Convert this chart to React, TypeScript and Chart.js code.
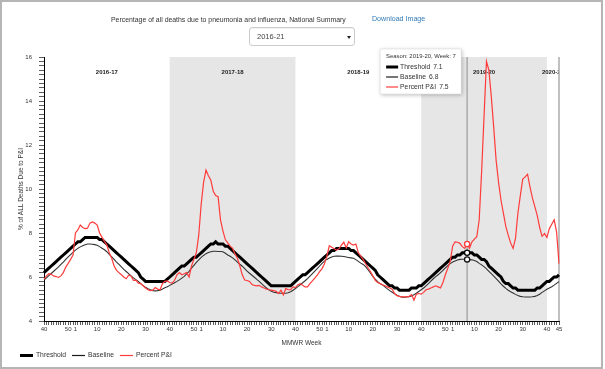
import { useEffect, useRef } from 'react';
import { Chart, registerables } from 'chart.js';

Chart.register(...registerables);

// ---------- categories ----------
const SEASON_NAMES = ['2016-17', '2017-18', '2018-19', '2019-20', '2020-21'];
const SHADED_SEASONS = ['2017-18', '2019-20'];
const SEASON_WEEKS_FULL = [40, 41, 42, 43, 44, 45, 46, 47, 48, 49, 50, 51, 52, 1, 2, 3, 4, 5, 6, 7, 8, 9, 10, 11, 12, 13, 14, 15, 16, 17, 18, 19, 20, 21, 22, 23, 24, 25, 26, 27, 28, 29, 30, 31, 32, 33, 34, 35, 36, 37, 38, 39];
const SEASON_WEEKS_LAST = [40, 41, 42, 43, 44, 45];
const LABELED_WEEKS = [40, 50, 1, 10, 20, 30];
const Y_TICK_LABELS = [4, 6, 8, 10, 12, 14, 16];
const HIGHLIGHT_SEASON = '2019-20';
const HIGHLIGHT_WEEK = 7;

// ---------- series values (per season) ----------
const threshold1617 = [6.2, 6.3, 6.4, 6.5, 6.6, 6.7, 6.8, 6.9, 7.0, 7.1, 7.2, 7.3, 7.4, 7.5, 7.6, 7.6, 7.7, 7.8, 7.8, 7.8, 7.8, 7.8, 7.8, 7.7, 7.7, 7.6, 7.5, 7.4, 7.3, 7.2, 7.1, 7.0, 6.9, 6.8, 6.7, 6.6, 6.5, 6.4, 6.3, 6.2, 6.0, 5.9, 5.8, 5.8, 5.8, 5.8, 5.8, 5.8, 5.8, 5.8, 5.8, 5.9];
const threshold1718 = [6.0, 6.1, 6.2, 6.3, 6.4, 6.5, 6.5, 6.6, 6.7, 6.8, 6.9, 6.9, 7.0, 7.1, 7.2, 7.3, 7.4, 7.5, 7.5, 7.6, 7.5, 7.5, 7.5, 7.4, 7.4, 7.3, 7.2, 7.1, 7.0, 6.9, 6.8, 6.7, 6.6, 6.5, 6.4, 6.3, 6.2, 6.1, 6.0, 5.9, 5.8, 5.7, 5.6, 5.6, 5.6, 5.6, 5.6, 5.6, 5.6, 5.6, 5.6, 5.7];
const threshold1819 = [5.8, 5.9, 6.0, 6.1, 6.1, 6.2, 6.3, 6.4, 6.5, 6.6, 6.7, 6.8, 6.9, 7.0, 7.1, 7.2, 7.2, 7.3, 7.3, 7.3, 7.3, 7.3, 7.3, 7.2, 7.2, 7.1, 7.0, 6.9, 6.8, 6.7, 6.6, 6.5, 6.4, 6.3, 6.1, 6.0, 5.9, 5.8, 5.7, 5.6, 5.6, 5.5, 5.5, 5.4, 5.4, 5.4, 5.4, 5.4, 5.5, 5.5, 5.5, 5.6];
const threshold1920 = [5.6, 5.7, 5.8, 5.9, 6.0, 6.1, 6.2, 6.3, 6.4, 6.5, 6.6, 6.7, 6.8, 6.9, 6.9, 7.0, 7.0, 7.1, 7.1, 7.1, 7.1, 7.1, 7.0, 7.0, 6.9, 6.8, 6.8, 6.7, 6.5, 6.4, 6.3, 6.2, 6.1, 6.0, 5.8, 5.7, 5.7, 5.6, 5.5, 5.5, 5.4, 5.4, 5.4, 5.4, 5.4, 5.4, 5.4, 5.4, 5.5, 5.5, 5.6, 5.7];
const threshold2021 = [5.8, 5.8, 5.9, 6.0, 6.0, 6.1];

const baseline1617 = [5.86, 5.96, 6.06, 6.16, 6.26, 6.36, 6.46, 6.57, 6.68, 6.80, 6.91, 7.02, 7.12, 7.22, 7.30, 7.37, 7.42, 7.47, 7.50, 7.50, 7.49, 7.47, 7.44, 7.38, 7.31, 7.24, 7.15, 7.03, 6.92, 6.80, 6.68, 6.57, 6.46, 6.35, 6.25, 6.15, 6.05, 5.96, 5.88, 5.80, 5.70, 5.61, 5.53, 5.47, 5.42, 5.38, 5.37, 5.38, 5.40, 5.45, 5.51, 5.56];
const baseline1718 = [5.62, 5.68, 5.74, 5.80, 5.87, 5.95, 6.03, 6.14, 6.26, 6.40, 6.53, 6.66, 6.78, 6.89, 6.98, 7.06, 7.11, 7.15, 7.17, 7.17, 7.16, 7.16, 7.15, 7.08, 7.00, 6.94, 6.87, 6.78, 6.68, 6.58, 6.49, 6.38, 6.27, 6.17, 6.08, 5.99, 5.89, 5.80, 5.70, 5.60, 5.50, 5.42, 5.35, 5.31, 5.29, 5.27, 5.26, 5.26, 5.26, 5.28, 5.33, 5.40];
const baseline1819 = [5.48, 5.56, 5.65, 5.74, 5.83, 5.93, 6.04, 6.15, 6.27, 6.38, 6.50, 6.62, 6.72, 6.80, 6.86, 6.91, 6.94, 6.95, 6.95, 6.94, 6.93, 6.91, 6.89, 6.87, 6.85, 6.79, 6.71, 6.63, 6.57, 6.47, 6.33, 6.18, 6.03, 5.90, 5.79, 5.70, 5.64, 5.55, 5.46, 5.38, 5.31, 5.24, 5.17, 5.12, 5.08, 5.08, 5.09, 5.10, 5.14, 5.19, 5.26, 5.34];
const baseline1920 = [5.42, 5.50, 5.60, 5.70, 5.81, 5.92, 6.02, 6.10, 6.20, 6.30, 6.41, 6.52, 6.61, 6.68, 6.73, 6.77, 6.80, 6.81, 6.81, 6.80, 6.79, 6.78, 6.75, 6.70, 6.62, 6.55, 6.47, 6.37, 6.26, 6.15, 6.04, 5.93, 5.81, 5.69, 5.58, 5.48, 5.40, 5.33, 5.27, 5.21, 5.16, 5.12, 5.10, 5.09, 5.09, 5.09, 5.10, 5.12, 5.16, 5.22, 5.30, 5.37];
const baseline2021 = [5.44, 5.50, 5.56, 5.63, 5.71, 5.79];

const pni1617 = [5.9, 6.05, 6.15, 6.12, 6.05, 6.02, 5.98, 6.05, 6.2, 6.45, 6.62, 6.8, 7.0, 8.0, 8.14, 8.36, 8.25, 8.2, 8.22, 8.45, 8.5, 8.45, 8.36, 8.0, 7.8, 7.62, 7.45, 7.1, 6.85, 6.5, 6.3, 6.2, 6.1, 6.0, 5.92, 6.08, 6.05, 5.85, 5.86, 5.72, 5.7, 5.6, 5.5, 5.42, 5.38, 5.4, 5.52, 5.45, 5.42, 5.7, 5.8, 5.82];
const pni1718 = [5.75, 5.72, 5.85, 6.1, 6.2, 6.1, 6.15, 6.2, 6.0, 6.5, 6.8, 7.1, 7.9, 9.3, 10.3, 10.86, 10.6, 10.4, 9.9, 9.7, 9.65, 8.6, 8.1, 7.7, 7.55, 7.4, 7.3, 7.05, 6.85, 6.5, 6.1, 5.86, 5.84, 5.8, 5.66, 5.62, 5.6, 5.62, 5.55, 5.5, 5.45, 5.42, 5.4, 5.38, 5.35, 5.25, 5.4, 5.18, 5.48, 5.42, 5.42, 5.55];
const pni1819 = [5.52, 5.65, 5.7, 5.62, 5.55, 5.55, 5.7, 5.82, 5.95, 6.08, 6.24, 6.38, 6.6, 6.95, 7.42, 7.35, 7.28, 7.22, 7.28, 7.45, 7.58, 7.32, 7.6, 7.5, 7.45, 7.5, 7.1, 6.95, 6.8, 6.6, 6.42, 6.25, 6.05, 5.85, 5.75, 5.7, 5.65, 5.6, 5.55, 5.5, 5.45, 5.25, 5.15, 5.12, 5.1, 5.1, 5.1, 5.12, 5.2, 4.95, 5.22, 5.25];
const pni1920 = [5.22, 5.3, 5.42, 5.45, 5.5, 5.55, 5.6, 5.55, 5.5, 5.75, 6.1, 6.4, 6.7, 7.4, 7.6, 7.58, 7.53, 7.38, 7.3, 7.5, 7.3, 7.6, 7.72, 7.83, 8.6, 10.8, 13.3, 15.8, 15.4, 14.2, 12.8, 11.3, 10.3, 9.5, 8.9, 8.3, 7.9, 7.55, 7.3, 7.75, 8.9, 9.7, 10.45, 10.55, 10.67, 10.1, 9.6, 9.2, 8.8, 8.25, 7.85, 7.98];
const pni2021 = [7.8, 8.2, 8.4, 8.6, 8.05, 6.6];

// ---------- assembled tables ----------
const SEASON_WEEK_LISTS = SEASON_NAMES.map((_, s) => (s === SEASON_NAMES.length - 1 ? SEASON_WEEKS_LAST : SEASON_WEEKS_FULL));
const WEEK_LABELS: number[] = [];
const SEASON_OF: string[] = [];
const SEASON_START: number[] = [];
SEASON_WEEK_LISTS.forEach((weeks, s) => {
  SEASON_START.push(WEEK_LABELS.length);
  weeks.forEach((w) => {
    WEEK_LABELS.push(w);
    SEASON_OF.push(SEASON_NAMES[s]);
  });
});
const LAST_INDEX = WEEK_LABELS.length - 1;
const HL_INDEX = WEEK_LABELS.findIndex((w, i) => w === HIGHLIGHT_WEEK && SEASON_OF[i] === HIGHLIGHT_SEASON);

const THRESHOLD = [...threshold1617, ...threshold1718, ...threshold1819, ...threshold1920, ...threshold2021];
const BASELINE = [...baseline1617, ...baseline1718, ...baseline1819, ...baseline1920, ...baseline2021];
const PNI = [...pni1617, ...pni1718, ...pni1819, ...pni1920, ...pni2021];

const FONT = '"Liberation Sans", Arial, Helvetica, sans-serif';
const RED = '#ff3b3b';

const SERIES = [
  { label: 'Threshold', color: '#000000', width: 3 },
  { label: 'Baseline', color: '#1a1a1a', width: 1.2 },
  { label: 'Percent P&I', color: RED, width: 1.2 },
];

const decorPlugin = {
  id: 'decor',
  beforeDatasetsDraw(chart: any) {
    const { ctx, chartArea: a, scales } = chart;
    const x = scales.x;
    ctx.save();
    // shaded seasons
    SEASON_NAMES.forEach((name, s) => {
      const start = SEASON_START[s];
      const end = s < SEASON_NAMES.length - 1 ? SEASON_START[s + 1] : LAST_INDEX;
      const x0 = x.getPixelForValue(start);
      const x1 = x.getPixelForValue(end);
      if (SHADED_SEASONS.includes(name)) {
        ctx.fillStyle = '#e6e6e6';
        ctx.fillRect(x0, a.top, x1 - x0, a.bottom - a.top);
      }
    });
    // season labels (clipped to plot)
    ctx.save();
    ctx.beginPath();
    ctx.rect(a.left, a.top, a.right - a.left, a.bottom - a.top);
    ctx.clip();
    ctx.font = `bold 6px ${FONT}`;
    ctx.fillStyle = '#222';
    ctx.textAlign = 'center';
    ctx.textBaseline = 'middle';
    SEASON_NAMES.forEach((name, s) => {
      const start = SEASON_START[s];
      const end = s < SEASON_NAMES.length - 1 ? SEASON_START[s + 1] : LAST_INDEX;
      const cx = (x.getPixelForValue(start) + x.getPixelForValue(end)) / 2;
      ctx.fillText(name, cx, a.top + 15);
    });
    ctx.restore();
    // vertical lines
    ctx.strokeStyle = '#a6a6a6';
    ctx.lineWidth = 1.4;
    const hx = x.getPixelForValue(HL_INDEX);
    ctx.beginPath();
    ctx.moveTo(hx, a.top);
    ctx.lineTo(hx, a.bottom);
    ctx.moveTo(a.right, a.top);
    ctx.lineTo(a.right, a.bottom);
    ctx.stroke();
    ctx.restore();
  },
  afterDraw(chart: any) {
    const { ctx, chartArea: a, scales } = chart;
    const x = scales.x;
    const hx = x.getPixelForValue(HL_INDEX);
    ctx.save();
    // tooltip box
    const bx = hx - 87;
    const by = a.top - 8;
    const bw = 81;
    const bh = 45;
    ctx.shadowColor = 'rgba(0,0,0,0.28)';
    ctx.shadowBlur = 4;
    ctx.shadowOffsetX = 1;
    ctx.shadowOffsetY = 1;
    ctx.fillStyle = '#ffffff';
    ctx.fillRect(bx, by, bw, bh);
    ctx.shadowColor = 'transparent';
    ctx.strokeStyle = '#dddddd';
    ctx.lineWidth = 0.6;
    ctx.strokeRect(bx, by, bw, bh);
    ctx.fillStyle = '#333';
    ctx.textAlign = 'left';
    ctx.textBaseline = 'middle';
    ctx.font = `5.9px ${FONT}`;
    ctx.fillText(`Season: ${SEASON_OF[HL_INDEX]}, Week: ${WEEK_LABELS[HL_INDEX]}`, bx + 6, by + 7);
    const values = [THRESHOLD[HL_INDEX], BASELINE[HL_INDEX], PNI[HL_INDEX]];
    ctx.font = `6.75px ${FONT}`;
    SERIES.forEach((sr, k) => {
      const ry = by + 18 + k * 10;
      ctx.strokeStyle = sr.color;
      ctx.lineWidth = sr.width;
      ctx.beginPath();
      ctx.moveTo(bx + 6, ry);
      ctx.lineTo(bx + 18, ry);
      ctx.stroke();
      ctx.fillStyle = '#333';
      ctx.fillText(sr.label, bx + 20, ry);
      const w = ctx.measureText(sr.label).width;
      ctx.fillText(values[k].toFixed(1), bx + 20 + w + 3, ry);
    });
    // bottom legend
    let lx = 20;
    const ly = 355.5;
    SERIES.forEach((sr) => {
      ctx.strokeStyle = sr.color;
      ctx.lineWidth = sr.width;
      ctx.beginPath();
      ctx.moveTo(lx, ly);
      ctx.lineTo(lx + 13, ly);
      ctx.stroke();
      ctx.fillStyle = '#333';
      ctx.fillText(sr.label, lx + 16, ly);
      lx += 16 + ctx.measureText(sr.label).width + 6;
    });
    ctx.restore();
  },
};

function App() {
  const ref = useRef<HTMLCanvasElement | null>(null);

  useEffect(() => {
    if (!ref.current) return;
    Chart.defaults.font.family = FONT;
    const hlRadius = (c: any) => (c.dataIndex === HL_INDEX ? 2.6 : 0);
    const chart = new Chart(ref.current, {
      type: 'line',
      data: {
        labels: WEEK_LABELS.map(String),
        datasets: [
          {
            label: 'Percent P&I',
            data: PNI,
            borderColor: RED,
            borderWidth: 1.2,
            pointRadius: hlRadius,
            pointBackgroundColor: '#fff',
            pointBorderColor: RED,
            pointBorderWidth: 1.3,
            tension: 0,
            order: 0,
          },
          {
            label: 'Baseline',
            data: BASELINE,
            borderColor: '#333333',
            borderWidth: 1.1,
            pointRadius: hlRadius,
            pointBackgroundColor: '#fff',
            pointBorderColor: '#111',
            pointBorderWidth: 1.3,
            tension: 0,
            order: 1,
          },
          {
            label: 'Threshold',
            data: THRESHOLD,
            borderColor: '#000',
            borderWidth: 3,
            pointRadius: hlRadius,
            pointBackgroundColor: '#fff',
            pointBorderColor: '#000',
            pointBorderWidth: 1.3,
            tension: 0,
            order: 2,
          },
        ],
      },
      options: {
        responsive: false,
        animation: false,
        events: [],
        layout: { padding: { left: 14, top: 57, right: 46, bottom: 20 } },
        plugins: {
          legend: { display: false },
          tooltip: { enabled: false },
        },
        scales: {
          x: {
            type: 'category',
            offset: false,
            grid: { display: true, drawOnChartArea: false, drawTicks: true, tickLength: 4, color: '#333', lineWidth: 0.8 },
            border: { display: true, color: '#000', width: 1 },
            ticks: {
              autoSkip: false,
              maxRotation: 0,
              minRotation: 0,
              padding: 1,
              color: '#333',
              font: { size: 6 },
              callback: (_v: any, i: number) =>
                LABELED_WEEKS.includes(WEEK_LABELS[i]) || i === LAST_INDEX ? String(WEEK_LABELS[i]) : '',
            },
            title: { display: true, text: 'MMWR Week', color: '#333', font: { size: 6.5 }, padding: { top: 2, bottom: 2 } },
            afterFit: (s: any) => {
              s.height = 28;
            },
          },
          y: {
            min: 4,
            max: 16,
            grid: { display: true, drawOnChartArea: false, drawTicks: true, tickLength: 5, color: '#333', lineWidth: 0.8 },
            border: { display: true, color: '#000', width: 1 },
            ticks: {
              stepSize: 0.2,
              autoSkip: false,
              padding: 7,
              color: '#333',
              font: { size: 6 },
              callback: (v: any) => {
                const r = Math.round(Number(v));
                return Math.abs(Number(v) - r) < 1e-6 && Y_TICK_LABELS.includes(r) ? String(r) : '';
              },
            },
            title: { display: true, text: '% of ALL Deaths Due to P&I', color: '#333', font: { size: 6.5 }, padding: { top: 3, bottom: 0 } },
            afterFit: (s: any) => {
              s.width = 30;
            },
          },
        },
      } as any,
      plugins: [decorPlugin],
    });
    return () => chart.destroy();
  }, []);

  const textBase: any = { position: 'absolute', whiteSpace: 'nowrap', fontFamily: FONT, lineHeight: '9px' };

  return (
    <div style={{ position: 'absolute', left: 0, top: 0, width: 605, height: 369, overflow: 'hidden', background: '#fff' }}>
      <canvas ref={ref} width={605} height={369} style={{ position: 'absolute', left: 0, top: 0 }} />
      <div style={{ ...textBase, left: 111, top: 14.5, fontSize: 6.9, color: '#333' }}>
        Percentage of all deaths due to pneumonia and influenza, National Summary
      </div>
      <div style={{ ...textBase, left: 372, top: 14.5, fontSize: 7.1, color: '#337ab7' }}>Download Image</div>
      <div
        style={{
          position: 'absolute',
          left: 249,
          top: 27,
          width: 106,
          height: 19,
          boxSizing: 'border-box',
          border: '1px solid #cccccc',
          borderRadius: 3,
          background: '#fff',
          boxShadow: 'inset 0 1px 1px rgba(0,0,0,0.06)',
        }}
      >
        <div style={{ ...textBase, left: 7, top: 4, fontSize: 7.5, color: '#444' }}>2016-21</div>
        <div
          style={{
            position: 'absolute',
            left: 97,
            top: 7.5,
            width: 0,
            height: 0,
            borderLeft: '2.5px solid transparent',
            borderRight: '2.5px solid transparent',
            borderTop: '3px solid #222',
          }}
        />
      </div>
      <div
        style={{
          position: 'absolute',
          left: 0,
          top: 0,
          width: 603,
          height: 369,
          boxSizing: 'border-box',
          border: '2px solid #b5b5b5',
          pointerEvents: 'none',
        }}
      />
    </div>
  );
}

export default App;
